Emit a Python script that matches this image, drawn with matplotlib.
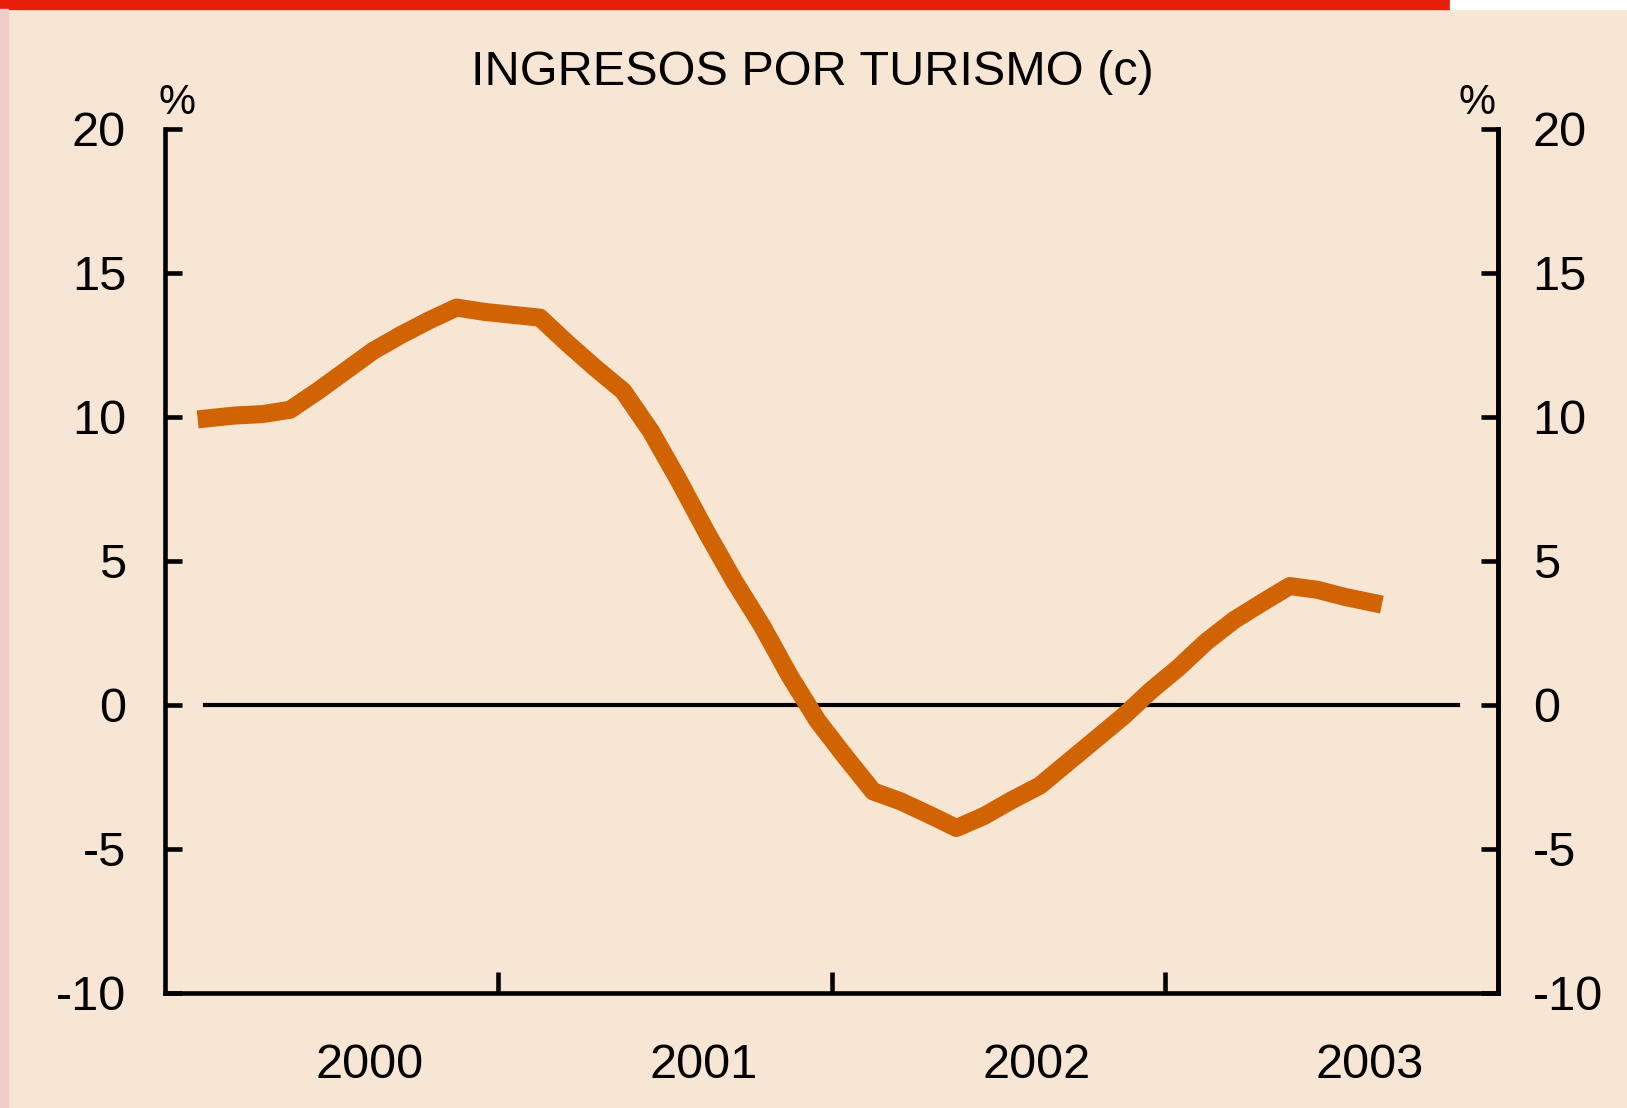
import matplotlib
matplotlib.use('Agg')
import matplotlib.pyplot as plt
from matplotlib.patches import Rectangle

# ---- data -------------------------------------------------------------
title = "INGRESOS POR TURISMO (c)"
# month number (1 = January 2000), plotted at mid-month
month_index = list(range(2, 45))
values = [9.95, 10.05, 10.1, 10.25, 10.9, 11.6, 12.3, 12.85, 13.35, 13.8,
          13.65, 13.55, 13.45, 12.55, 11.7, 10.9, 9.5, 7.8, 6.0, 4.3,
          2.75, 1.0, -0.55, -1.8, -3.0, -3.35, -3.8, -4.27, -3.85, -3.3,
          -2.8, -2.0, -1.2, -0.4, 0.5, 1.3, 2.2, 2.95, 3.55, 4.13,
          4.0, 3.75, 3.55]
year_labels = ['2000', '2001', '2002', '2003']
year_start = 2000
y_ticks = [-10, -5, 0, 5, 10, 15, 20]

# ---- style ------------------------------------------------------------
BG = '#F7E6D3'
LINE = '#D16400'
plt.rcParams['font.family'] = ['Liberation Sans', 'DejaVu Sans']

fig = plt.figure(figsize=(16.27, 11.08), dpi=100, facecolor=BG)
ax = fig.add_axes([165/1627, 1-993/1108, (1498-165)/1627, (993-129)/1108])
ax.set_facecolor(BG)

x = [year_start + (m - 0.5)/12 for m in month_index]
ax.plot(x, values, color=LINE, lw=13, solid_capstyle='projecting',
        solid_joinstyle='round', zorder=3)
ax.axhline(0, xmin=0.03, xmax=0.97, color='black', lw=3.0, zorder=2)

n_years = len(year_labels)
ax.set_xlim(year_start, year_start + n_years)
ax.set_ylim(min(y_ticks), max(y_ticks))

ax.set_xticks([year_start + i for i in range(1, n_years)])
ax.set_xticklabels([])
ax.set_xticks([year_start + i + 0.615 for i in range(n_years)], minor=True)
ax.set_xticklabels(year_labels, minor=True, fontsize=35)
ax.tick_params(axis='x', which='major', direction='in', length=15, width=3.3)
ax.tick_params(axis='x', which='minor', length=0, pad=36)

ax.set_yticks(y_ticks)
ax.set_yticklabels([str(v) for v in y_ticks], fontsize=35)
ax.tick_params(axis='y', direction='in', length=12, width=3.3, pad=28)

ax2 = ax.twinx()
ax2.set_ylim(ax.get_ylim())
ax2.set_yticks(y_ticks)
ax2.set_yticklabels([str(v) for v in y_ticks], fontsize=35)
ax2.tick_params(axis='y', direction='in', length=12, width=3.3, pad=25)

for a in (ax, ax2):
    a.spines['top'].set_visible(False)
    for s in ('left', 'right', 'bottom'):
        a.spines[s].set_linewidth(3.3)
        a.spines[s].set_capstyle('projecting')
ax2.spines['left'].set_visible(False)
ax2.spines['bottom'].set_visible(False)

fig.text(177/1627, 1-103/1108, '%', fontsize=30, ha='center', va='center')
fig.text(1477/1627, 1-103/1108, '%', fontsize=30, ha='center', va='center')
fig.text(812/1627, 1-85/1108, title, fontsize=35, ha='center', va='baseline')

# decorative frame bits
fig.patches.append(Rectangle((0, 1-9/1108), 1450/1627, 9/1108,
                             transform=fig.transFigure, color='#E61E0A', zorder=0))
fig.patches.append(Rectangle((1450/1627, 1-9/1108), 1-1450/1627, 9/1108,
                             transform=fig.transFigure, color='white', zorder=0))
fig.patches.append(Rectangle((0, 0), 8/1627, 1-9/1108,
                             transform=fig.transFigure, color='#F2CBCB', zorder=0))

fig.savefig('out.png', dpi=100, facecolor=BG)
